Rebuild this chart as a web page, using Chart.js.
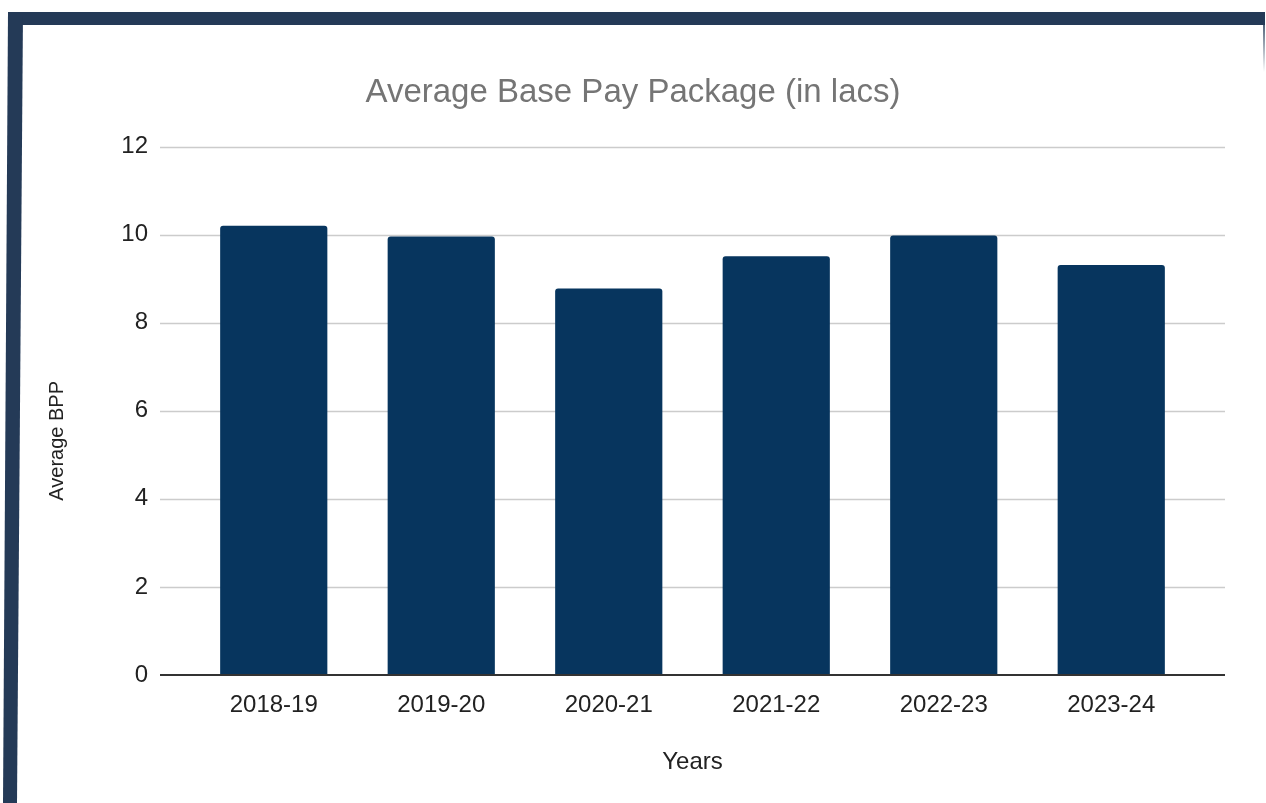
<!DOCTYPE html>
<html>
<head>
<meta charset="utf-8">
<script src="https://cdn.jsdelivr.net/npm/chart.js@4.4.0/dist/chart.umd.min.js"></script>
<style>
  html, body { margin: 0; padding: 0; background: #fff; }
  body { width: 1266px; height: 803px; position: relative; overflow: hidden; }
  #wrap { position: absolute; left: 0; top: 0; width: 1266px; height: 803px; }
  .frameTop { position: absolute; left: 8px; top: 12px; width: 1257px; height: 13px; background: #243a57; }
  .frameLeft { position: absolute; left: 0; top: 12px; width: 30px; height: 791px; background: #243a57;
    clip-path: polygon(8px 0, 23px 0, 17px 100%, 3px 100%); }
  .frameRight { position: absolute; left: 1263px; top: 12px; width: 2px; height: 60px;
    background: linear-gradient(#243a57, rgba(36,58,87,0)); }
</style>
</head>
<body>
<div class="frameTop"></div>
<div class="frameLeft"></div>
<div class="frameRight"></div>
<div id="wrap"><canvas id="chart"></canvas></div>
<script>
const years = ["2018-19", "2019-20", "2020-21", "2021-22", "2022-23", "2023-24"];
const avgBpp = [10.2, 9.96, 8.78, 9.51, 9.98, 9.31];
const yTicks = [0, 2, 4, 6, 8, 10, 12];
const yTitle = "Average BPP";

const FONT = "'Liberation Sans', Arial, sans-serif";

// gridlines in the original run a bit past the bars on both sides,
// and the y title sits lower than the plot middle
const gridLines = {
  id: "gridLines",
  beforeDatasetsDraw(chart) {
    const { ctx, chartArea, scales } = chart;
    ctx.save();
    ctx.strokeStyle = "#cccccc";
    ctx.lineWidth = 1.5;
    yTicks.forEach((t) => {
      if (t === 0) return;
      const y = Math.round(scales.y.getPixelForValue(t)) + 0.5;
      ctx.beginPath();
      ctx.moveTo(chartArea.left - 30, y);
      ctx.lineTo(chartArea.right + 30, y);
      ctx.stroke();
    });
    ctx.restore();
  },
  afterDatasetsDraw(chart) {
    const { ctx, chartArea, scales } = chart;
    const y = scales.y.getPixelForValue(0);
    ctx.save();
    ctx.strokeStyle = "#333333";
    ctx.lineWidth = 2;
    ctx.beginPath();
    ctx.moveTo(chartArea.left - 30, y);
    ctx.lineTo(chartArea.right + 30, y);
    ctx.stroke();

    // y axis title, centred over plot + x labels
    const midY = (chartArea.top + scales.x.top + 60) / 2;
    ctx.translate(scales.y.left + 27, midY);
    ctx.rotate(-Math.PI / 2);
    ctx.fillStyle = "#222";
    ctx.font = "20px " + FONT;
    ctx.textAlign = "center";
    ctx.textBaseline = "middle";
    ctx.fillText(yTitle, 0, 0);
    ctx.restore();
  },
};

new Chart(document.getElementById("chart"), {
  type: "bar",
  data: {
    labels: years,
    datasets: [
      {
        label: "Average BPP",
        data: avgBpp,
        backgroundColor: "#07355e",
        borderRadius: 3,
        borderSkipped: "bottom",
        barPercentage: 0.64,
        categoryPercentage: 1,
      },
    ],
  },
  options: {
    responsive: true,
    maintainAspectRatio: false,
    animation: false,
    layout: { padding: { left: 30, right: 30, top: 40, bottom: 10 } },
    plugins: {
      legend: { display: false },
      tooltip: { enabled: false },
      title: {
        display: true,
        text: "Average Base Pay Package (in lacs)",
        color: "#757575",
        font: { family: FONT, size: 33, weight: "normal" },
        padding: { top: 33, bottom: 34 },
      },
    },
    scales: {
      x: {
        grid: { display: false },
        border: { display: false },
        ticks: { color: "#222", font: { family: FONT, size: 24 }, padding: 8 },
        title: {
          display: true,
          text: "Years",
          color: "#222",
          font: { family: FONT, size: 24 },
          padding: { top: 0, bottom: 16 },
        },
        afterFit(scale) { scale.height = 118; },
      },
      y: {
        min: 0,
        max: 12,
        grid: { display: false, drawTicks: false },
        border: { display: false },
        afterBuildTicks(scale) { scale.ticks = yTicks.map((v) => ({ value: v })); },
        ticks: { color: "#222", font: { family: FONT, size: 24 }, padding: 42 },
        title: { display: false },
        afterFit(scale) { scale.width = 160; },
      },
      yRight: {
        position: "right",
        display: true,
        grid: { display: false },
        border: { display: false },
        ticks: { display: false },
        afterFit(scale) { scale.width = 41; },
      },
    },
  },
  plugins: [gridLines],
});
</script>
</body>
</html>
